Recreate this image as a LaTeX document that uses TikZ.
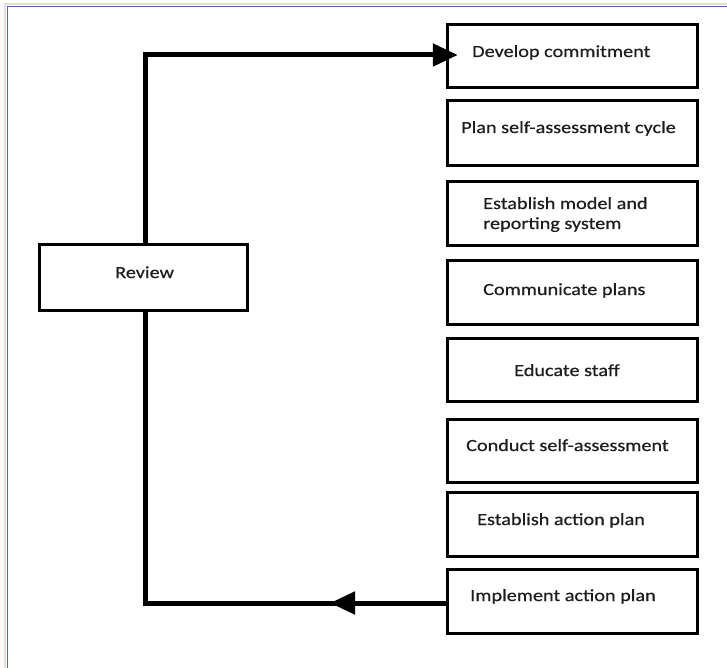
\documentclass[tikz,border=0pt]{standalone}
\usepackage{fontspec}
\setmainfont[FakeStretch=1.19,FakeBold=0.6]{Carlito}
\usetikzlibrary{arrows.meta}
\definecolor{txt}{HTML}{1E1E1E}
\definecolor{frame}{HTML}{4A6AA5}
\begin{document}
\begin{tikzpicture}[x=1pt,y=-1pt,
  stepbox/.style={draw=black,line width=3.4pt,inner sep=0pt,minimum width=250pt},
  lbl/.style={anchor=base west,inner sep=0pt,text=txt,font=\fontsize{17}{20}\selectfont,align=left},
  conn/.style={line width=5pt,line cap=butt,line join=miter},
  tip/.style={-{Triangle[length=25pt,width=22pt]}}
]
\useasboundingbox (0,0) rectangle (727,668);
\fill[white] (0,0) rectangle (727,668);
% page frame
\draw[gray!25,line width=2pt] (727,4.5) -- (5,4.5) -- (5,668);
\draw[frame,line width=1.2pt] (727,6.8) -- (7.4,6.8) -- (7.4,668);

% step boxes
\node[stepbox,minimum height=63pt] (b1) at (572.5,56) {};
\node[stepbox,minimum height=65pt] (b2) at (572.5,133) {};
\node[stepbox,minimum height=64pt] (b3) at (572.5,213.5) {};
\node[stepbox,minimum height=64pt] (b4) at (572.5,292.5) {};
\node[stepbox,minimum height=63pt] (b5) at (572.5,370) {};
\node[stepbox,minimum height=63pt] (b6) at (572.5,451) {};
\node[stepbox,minimum height=64pt] (b7) at (572.5,524.5) {};
\node[stepbox,minimum height=64pt] (b8) at (572.5,601.5) {};
\node[stepbox,minimum width=208pt,minimum height=66pt] (rev) at (143.5,277.5) {};

% labels
\node[lbl] (l1) at (472,57) {Develop commitment};
\node[lbl] (l2) at (461,133) {Plan self-assessment cycle};
\node[lbl] (l3) at (483,229) {Establish model and\\reporting system};
\node[lbl] (l4) at (483,295) {Communicate plans};
\node[lbl] (l5) at (514,376) {Educate staff};
\node[lbl] (l6) at (466,451) {Conduct self-assessment};
\node[lbl] (l7) at (477,525) {Establish action plan};
\node[lbl] (l8) at (470,601) {Implement action plan};
\node[lbl] (lr) at (115,278) {Review};

% connectors
\coordinate (c1) at (145,55);
\coordinate (c2) at (145,603);
\coordinate (t2) at (330,603);
\draw[conn,tip] (c1 |- rev.north) -- (c1) -- ([xshift=12pt]b1.west |- c1);
\draw[conn] (b8.west |- c2) -- (c2) -- (c2 |- rev.south);
\draw[conn,tip] (b8.west |- c2) -- (t2);
\end{tikzpicture}
\end{document}
